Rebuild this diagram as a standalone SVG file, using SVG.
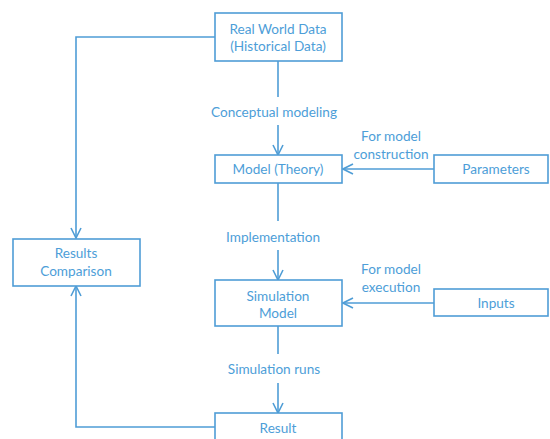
<svg xmlns="http://www.w3.org/2000/svg" width="550" height="439" viewBox="0 0 550 439">
<defs>
<style>
.box{fill:#fff;stroke:#4f9dd6;stroke-width:1.6}
.ln{fill:none;stroke:#4f9dd6;stroke-width:1.6}
.t{font-family:Lato,"Open Sans","Liberation Sans",sans-serif;font-size:13.6px;fill:#4d9ed8;text-anchor:middle;dominant-baseline:central}
</style>
<marker id="ah" viewBox="0 0 12 12" refX="11" refY="6" markerWidth="12" markerHeight="12" markerUnits="userSpaceOnUse" orient="auto">
<polyline points="1,1 11,6 1,11" fill="none" stroke="#4f9dd6" stroke-width="1.6"/>
</marker>
</defs>
<rect width="550" height="439" fill="#fff"/>
<g id="connectors">
<polyline class="ln" points="215,37 76,37 76,238" marker-end="url(#ah)"/>
<line class="ln" x1="278" y1="61" x2="278" y2="97"/>
<line class="ln" x1="278" y1="125" x2="278" y2="155" marker-end="url(#ah)"/>
<line class="ln" x1="278" y1="183" x2="278" y2="221"/>
<line class="ln" x1="278" y1="250" x2="278" y2="280" marker-end="url(#ah)"/>
<line class="ln" x1="278" y1="326" x2="278" y2="354"/>
<line class="ln" x1="278" y1="383" x2="278" y2="413" marker-end="url(#ah)"/>
<line class="ln" x1="434" y1="169" x2="343" y2="169" marker-end="url(#ah)"/>
<line class="ln" x1="434" y1="303" x2="343" y2="303" marker-end="url(#ah)"/>
<polyline class="ln" points="215,427 76,427 76,286" marker-end="url(#ah)"/>
<text class="t" x="274" y="112">Conceptual modeling</text>
<text class="t" x="391" y="136">For model</text>
<text class="t" x="391" y="154">construction</text>
<text class="t" x="273" y="237">Implementation</text>
<text class="t" x="391" y="269">For model</text>
<text class="t" x="391" y="287">execution</text>
<text class="t" x="274" y="369">Simulation runs</text>
</g>
<g id="real-world-data">
<rect class="box" x="215" y="13" width="127" height="48"/>
<text class="t" x="278" y="29">Real World Data</text>
<text class="t" x="278" y="46">(Historical Data)</text>
</g>
<g id="model-theory">
<rect class="box" x="215" y="155" width="127" height="28"/>
<text class="t" x="278" y="169">Model (Theory)</text>
</g>
<g id="parameters">
<rect class="box" x="434" y="155" width="114" height="28"/>
<text class="t" x="496" y="169">Parameters</text>
</g>
<g id="results-comparison">
<rect class="box" x="13" y="239" width="127" height="47"/>
<text class="t" x="76" y="253">Results</text>
<text class="t" x="76" y="271">Comparison</text>
</g>
<g id="simulation-model">
<rect class="box" x="215" y="280" width="127" height="46"/>
<text class="t" x="278" y="296">Simulation</text>
<text class="t" x="278" y="313">Model</text>
</g>
<g id="inputs">
<rect class="box" x="434" y="289" width="114" height="27"/>
<text class="t" x="496" y="303">Inputs</text>
</g>
<g id="result">
<rect class="box" x="215" y="413" width="127" height="40"/>
<text class="t" x="278" y="428">Result</text>
</g>
</svg>
